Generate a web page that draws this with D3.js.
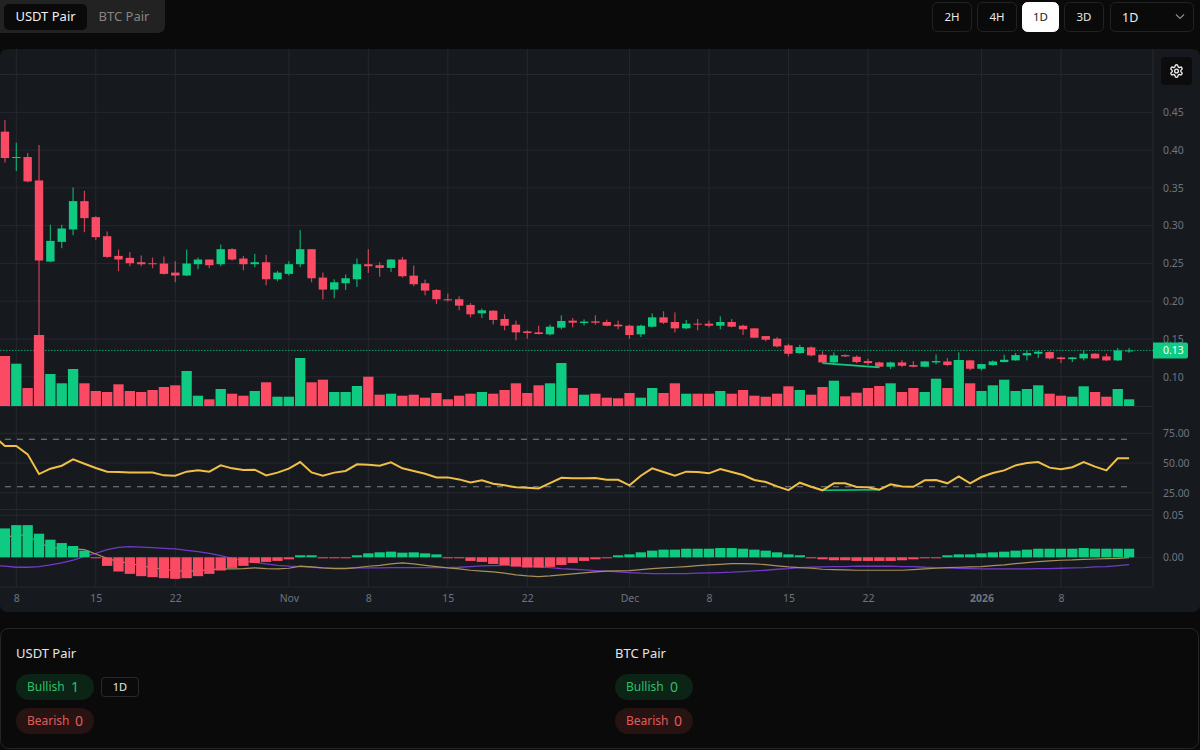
<!DOCTYPE html>
<html>
<head>
<meta charset="utf-8">
<script src="https://cdn.jsdelivr.net/npm/d3@7/dist/d3.min.js"></script>
<style>
  html, body { margin: 0; padding: 0; background: #0a0a0a; overflow: hidden; }
  text { font-family: "Noto Sans", sans-serif; }
  .axis text { fill: #6f7480; font-size: 10.4px; }
  .axis path, .axis line { display: none; }
</style>
</head>
<body>
<svg id="chart" width="1200" height="750"></svg>
<script>
// daily candles, first one is 7 Oct 2025
const startDate = '2025-10-07';
const opens = [.4244,.3895,.3908,.3598,.2524,.2785,.2949,.3324,.3112,.2860,.2599,.2573,.2515,.2502,.2498,.2378,.2339,.2489,.2551,.2489,.2688,.2564,.2489,.2515,.2290,.2361,.2489,.2688,.2312,.2153,.2237,.2290,.2489,.2476,.2440,
  .2551,.2338,.2237,.2148,.2025,.2025,.1950,.1839,.1874,.1764,.1689,.1600,.1587,.1561,.1649,.1742,.1711,.1733,.1724,.1689,.1675,.1561,.1662,.1786,.1724,.1640,.1702,.1702,.1675,.1724,.1675,.1640,.1538,.1503,.1415,
  .1313,.1388,.1291,.1189,.1286,.1264,.1207,.1189,.1132,.1189,.1154,.1132,.1189,.1202,.1171,.1216,.1105,.1154,.1194,.1216,.1282,.1304,.1326,.1255,.1233,.1242,.1304,.1269,.1216,.1335];
const highs = [.4398,.4098,.3961,.4067,.3011,.3011,.3506,.3461,.3125,.2922,.2683,.2648,.2604,.2577,.2591,.2529,.2683,.2577,.2551,.2750,.2701,.2599,.2626,.2613,.2401,.2529,.2940,.2688,.2378,.2290,.2352,.2564,.2688,.2515,.2555,
  .2586,.2471,.2285,.2162,.2100,.2064,.1976,.1901,.1879,.1826,.1742,.1614,.1675,.1689,.1812,.1777,.1759,.1812,.1755,.1742,.1689,.1689,.1839,.1866,.1852,.1751,.1764,.1742,.1799,.1764,.1689,.1640,.1538,.1525,.1437,
  .1423,.1401,.1335,.1322,.1295,.1282,.1238,.1198,.1198,.1220,.1207,.1207,.1295,.1247,.1322,.1224,.1171,.1216,.1291,.1313,.1348,.1348,.1335,.1264,.1260,.1348,.1313,.1304,.1379,.1379];
const lows = [.3833,.3722,.3572,.1300,.2515,.2701,.2873,.2913,.2807,.2573,.2396,.2462,.2462,.2436,.2352,.2250,.2334,.2423,.2436,.2462,.2538,.2409,.2449,.2210,.2264,.2339,.2449,.2250,.2025,.2038,.2149,.2188,.2374,.2325,.2387,
  .2312,.2197,.2078,.1963,.1994,.1879,.1786,.1777,.1693,.1614,.1481,.1503,.1561,.1547,.1627,.1653,.1680,.1689,.1667,.1627,.1503,.1525,.1653,.1698,.1587,.1627,.1614,.1653,.1627,.1653,.1552,.1516,.1468,.1388,.1269,
  .1304,.1269,.1180,.1171,.1260,.1180,.1154,.1123,.1101,.1127,.1123,.1127,.1163,.1140,.1145,.1083,.1083,.1145,.1189,.1211,.1216,.1247,.1229,.1180,.1194,.1216,.1238,.1207,.1207,.1317];
const closes = [.3895,.3908,.3585,.2538,.2798,.2962,.3324,.3099,.2847,.2586,.2551,.2502,.2489,.2489,.2361,.2339,.2498,.2551,.2476,.2688,.2551,.2489,.2515,.2290,.2378,.2489,.2688,.2303,.2153,.2250,.2303,.2489,.2462,.2440,.2551,
  .2330,.2224,.2140,.2025,.2011,.1941,.1826,.1879,.1751,.1675,.1587,.1578,.1565,.1662,.1737,.1715,.1729,.1715,.1675,.1667,.1552,.1675,.1786,.1715,.1640,.1702,.1689,.1675,.1724,.1662,.1627,.1516,.1490,.1401,.1304,
  .1392,.1282,.1189,.1282,.1269,.1194,.1180,.1132,.1189,.1145,.1132,.1202,.1207,.1154,.1207,.1105,.1167,.1202,.1224,.1286,.1313,.1330,.1242,.1233,.1255,.1304,.1242,.1216,.1348,.1348];
const volumes = [50,42.3,18,71,32,22.7,37,22.7,15,14,21.7,15,14,16,19,20.7,35,10.3,6.7,17,12.3,10.3,15,23.7,9.3,9.3,48,23.7,26.3,14,14,20,29.3,11.3,12.3,
  10.3,11.3,8.3,13,6.7,10.3,12.3,14,12.3,16,22.7,13,20.7,22.7,43,18,11.3,12.3,8.3,7.7,13,8.3,18,13,22.7,12.3,12.3,12.3,15,12.3,16,10.3,9.3,12.3,19.7,
  16,11.3,19,25.3,9.7,13.3,18,20,22.7,14,18,14,27.3,18,46,22.7,15,20.7,26.3,15,17,20.7,12.3,10.3,9.3,19.7,14,9.3,17,6.7];

// the three indicator lines start one day earlier, off the left edge
const rsiValues = [72.8,64.3,64.3,57.3,40.7,45.2,47.7,53.1,49.4,45.8,42.7,42.4,41.9,41.9,41.9,39.6,39.3,42.7,43.8,42.7,48.0,45.5,44.1,44.4,39.6,41.9,45.2,50.8,42.1,39.3,41.9,43.3,48.9,48.6,47.7,50.5,
  45.5,43.3,41.0,37.9,37.9,36.2,33.7,35.4,32.6,31.2,29.5,29.2,28.6,33.1,37.6,37.1,37.1,37.4,35.9,35.9,31.2,39.3,45.5,42.4,39.3,42.7,42.4,41.3,44.9,42.4,39.9,35.7,34.0,30.3,27.2,
  33.4,30.0,27.0,32.9,32.9,29.8,29.5,27.5,32.0,30.3,30.0,35.4,35.7,32.9,38.8,32.9,38.2,41.6,43.8,48.0,50.0,50.8,46.1,44.7,46.4,50.8,46.9,43.8,53.9,53.9];
const macdLine = [.0205,.0236,.0264,.0264,.0169,.0118,.0102,.0099,.0091,.0039,-.0012,-.0051,-.0071,-.0102,-.0122,-.0142,-.0158,-.0165,-.0158,-.0150,-.0138,-.0138,-.0134,-.0126,-.0134,-.0138,-.0130,-.0106,-.0114,-.0126,-.0134,-.0134,-.0122,-.0106,-.0095,-.0079,
  -.0067,-.0079,-.0095,-.0110,-.0126,-.0138,-.0154,-.0165,-.0173,-.0189,-.0209,-.0221,-.0229,-.0221,-.0209,-.0197,-.0185,-.0173,-.0165,-.0162,-.0158,-.0146,-.0134,-.0126,-.0118,-.0110,-.0099,-.0091,-.0083,-.0075,-.0075,-.0079,-.0087,-.0102,-.0114,
  -.0122,-.0130,-.0142,-.0146,-.0150,-.0154,-.0154,-.0154,-.0154,-.0154,-.0146,-.0138,-.0130,-.0122,-.0118,-.0114,-.0110,-.0098,-.0091,-.0075,-.0063,-.0051,-.0043,-.0035,-.0031,-.0024,-.0020,-.0016,-.0012,-.0004];
const signalLine = [-.0099,-.0106,-.0118,-.0118,-.0110,-.0091,-.0067,-.0035,.0012,.0047,.0091,.0118,.0126,.0122,.0114,.0106,.0099,.0083,.0067,.0047,.0020,-.0012,-.0039,-.0059,-.0079,-.0095,-.0106,-.0110,-.0118,-.0126,-.0130,-.0130,-.0126,-.0126,-.0126,-.0122,
  -.0122,-.0122,-.0122,-.0122,-.0122,-.0118,-.0110,-.0102,-.0099,-.0095,-.0099,-.0106,-.0114,-.0122,-.0134,-.0142,-.0150,-.0158,-.0165,-.0173,-.0181,-.0189,-.0193,-.0193,-.0193,-.0193,-.0189,-.0185,-.0181,-.0177,-.0169,-.0162,-.0154,-.0142,-.0134,
  -.0122,-.0118,-.0114,-.0110,-.0110,-.0106,-.0106,-.0106,-.0106,-.0110,-.0110,-.0118,-.0122,-.0126,-.0130,-.0134,-.0138,-.0138,-.0138,-.0138,-.0138,-.0134,-.0134,-.0130,-.0126,-.0122,-.0114,-.0110,-.0098,-.0087];
const histogram = [.0343,.0382,.0382,.0280,.0209,.0169,.0134,.0079,-.0008,-.0102,-.0169,-.0197,-.0224,-.0236,-.0248,-.0256,-.0248,-.0224,-.0197,-.0157,-.0126,-.0102,-.0067,-.0055,-.0043,-.0024,.0024,.0024,-.0004,-.0012,-.0012,.0024,.0047,.0059,.0067,
  .0055,.0059,.0047,.0035,-.0006,-.0012,-.0043,-.0055,-.0079,-.0091,-.0110,-.0122,-.0122,-.0114,-.0091,-.0067,-.0043,-.0024,-.0012,.0024,.0035,.0059,.0079,.0091,.0091,.0102,.0102,.0102,.0110,.0110,.0102,.0091,.0079,.0059,.0035,
  .0024,-.0012,-.0024,-.0035,-.0035,-.0043,-.0043,-.0043,-.0043,-.0035,-.0024,-.0012,-.0006,.0024,.0035,.0035,.0047,.0059,.0067,.0079,.0091,.0102,.0102,.0102,.0102,.0110,.0102,.0102,.0102,.0102];

// bullish divergence, bar numbers of both ends
const divFrom = 72;
const divTo = 77;

const priceTicks = [.10,.15,.20,.25,.30,.35,.40,.45];
const priceGrid = [.10,.15,.20,.25,.30,.35,.40,.45,.50];
const rsiTicks = [25,50,75];
const rsiBands = [30,70];
const macdTicks = [0,.05];
const timeTicks = ['2025-10-08','2025-10-15','2025-10-22','2025-11-01','2025-11-08','2025-11-15','2025-11-22','2025-12-01','2025-12-08','2025-12-15','2025-12-22','2026-01-01','2026-01-08'];
const timeLabels = ['8','15','22','Nov','8','15','22','Dec','8','15','22','2026','8'];

const pairTabs = ['USDT Pair','BTC Pair'];
const intervals = ['2H','4H','1D','3D'];
const activeInterval = '1D';
const cardPairs = ['USDT Pair','BTC Pair'];
const bullishCounts = [1,0];
const bearishCounts = [0,0];
const bullishFrames = [['1D'],[]];

const GREEN = '#0ecb81';
const RED = '#fa4a64';
const GRID = '#25282f';
const PANEL = '#161a1f';

const parseDay = d3.utcParse('%Y-%m-%d');
const dayOf = i => d3.utcDay.offset(parseDay(startDate), i);

const x = d3.scaleUtc()
  .domain([dayOf(0), dayOf(99)])
  .range([4.95, 1129.1]);
const xi = i => x(dayOf(i));

const y = d3.scaleLinear().domain([.10, .45]).range([376.7, 112.3]);
const yVol = d3.scaleLinear().domain([0, 71]).range([406, 335]);
const yRsi = d3.scaleLinear().domain([25, 75]).range([492.7, 433.3]);
const yMacd = d3.scaleLinear().domain([0, .05]).range([557.3, 515.2]);

const right = 1153;
const candleW = 8.4;
const barW = 10.3;

const svg = d3.select('#chart');

svg.append('clipPath').attr('id', 'plot').append('rect')
  .attr('x', 0).attr('y', 49).attr('width', right).attr('height', 538);

// chart panel
svg.append('rect')
  .attr('x', 0).attr('y', 49).attr('width', 1200).attr('height', 563)
  .attr('rx', 7).attr('fill', PANEL);

// grid
const grid = svg.append('g').attr('stroke', GRID).attr('stroke-width', 1);
const hLine = yy => grid.append('line').attr('x1', 0).attr('x2', right).attr('y1', yy).attr('y2', yy);
priceGrid.forEach(d => hLine(y(d)));
rsiTicks.forEach(d => hLine(yRsi(d)));
macdTicks.forEach(d => hLine(yMacd(d)));
[406.5, 509.5, 587].forEach(hLine);
grid.selectAll('.vgrid').data(timeTicks).join('line')
  .attr('class', 'vgrid')
  .attr('x1', d => x(parseDay(d))).attr('x2', d => x(parseDay(d)))
  .attr('y1', 49).attr('y2', 587);
grid.append('line').attr('x1', right).attr('x2', right).attr('y1', 49).attr('y2', 587);

const plot = svg.append('g').attr('clip-path', 'url(#plot)');

// current price line
const lastClose = closes[closes.length - 1];
plot.append('line')
  .attr('x1', 0).attr('x2', right)
  .attr('y1', y(lastClose)).attr('y2', y(lastClose))
  .attr('stroke', GREEN).attr('stroke-opacity', .75).attr('stroke-dasharray', '1.5 1.5');

// candles
const bars = d3.range(opens.length);
const isUp = i => closes[i] >= opens[i];
const candles = plot.append('g');
candles.selectAll('.wick').data(bars).join('rect')
  .attr('class', 'wick')
  .attr('x', i => xi(i) - .6).attr('width', 1.2)
  .attr('y', i => y(highs[i]))
  .attr('height', i => y(lows[i]) - y(highs[i]))
  .attr('fill', i => isUp(i) ? GREEN : RED)
  .attr('opacity', .8);
candles.selectAll('.body').data(bars).join('rect')
  .attr('class', 'body')
  .attr('x', i => xi(i) - candleW / 2).attr('width', candleW)
  .attr('y', i => y(Math.max(opens[i], closes[i])))
  .attr('height', i => Math.max(1, Math.abs(y(opens[i]) - y(closes[i]))))
  .attr('fill', i => isUp(i) ? GREEN : RED);

// divergence on price
plot.append('line')
  .attr('x1', xi(divFrom)).attr('x2', xi(divTo))
  .attr('y1', y(lows[divFrom])).attr('y2', y(lows[divTo]))
  .attr('stroke', GREEN).attr('stroke-width', 1.6);

// volume
plot.append('g').selectAll('rect').data(bars).join('rect')
  .attr('x', i => xi(i) - barW / 2).attr('width', barW)
  .attr('y', i => yVol(volumes[i]))
  .attr('height', i => yVol(0) - yVol(volumes[i]))
  .attr('fill', i => isUp(i) ? GREEN : RED);

// rsi
rsiBands.forEach(b => {
  plot.append('line')
    .attr('x1', xi(0)).attr('x2', xi(99))
    .attr('y1', yRsi(b)).attr('y2', yRsi(b))
    .attr('stroke', '#82858d').attr('stroke-width', 1).attr('stroke-dasharray', '6 6');
});
plot.append('line')
  .attr('x1', xi(divFrom)).attr('x2', xi(divTo))
  .attr('y1', yRsi(rsiValues[divFrom + 1])).attr('y2', yRsi(rsiValues[divTo + 1]))
  .attr('stroke', GREEN).attr('stroke-width', 1.6);
const lineAt = scale => d3.line().x((d, i) => xi(i - 1)).y(d => scale(d));
plot.append('path')
  .attr('d', lineAt(yRsi)(rsiValues))
  .attr('fill', 'none').attr('stroke', '#f0bf45').attr('stroke-width', 2);

// macd, histogram sits on top of both lines
plot.append('path')
  .attr('d', lineAt(yMacd)(signalLine))
  .attr('fill', 'none').attr('stroke', '#7238c8').attr('stroke-width', 1.3);
plot.append('path')
  .attr('d', lineAt(yMacd)(macdLine))
  .attr('fill', 'none').attr('stroke', '#a8905a').attr('stroke-width', 1.2);
plot.append('g').selectAll('rect').data(bars).join('rect')
  .attr('x', i => xi(i) - barW / 2).attr('width', barW)
  .attr('y', i => yMacd(Math.max(0, histogram[i])))
  .attr('height', i => Math.max(1, Math.abs(yMacd(histogram[i]) - yMacd(0))))
  .attr('fill', i => histogram[i] >= 0 ? GREEN : RED);

// axes
const twoDec = d3.format('.2f');
const rightAxis = (scale, ticks) => d3.axisRight(scale).tickValues(ticks).tickFormat(twoDec).tickSize(0).tickPadding(10);
svg.append('g').attr('class', 'axis').attr('transform', `translate(${right},0)`).call(rightAxis(y, priceTicks));
svg.append('g').attr('class', 'axis').attr('transform', `translate(${right},0)`).call(rightAxis(yRsi, rsiTicks));
svg.append('g').attr('class', 'axis').attr('transform', `translate(${right},0)`).call(rightAxis(yMacd, macdTicks));

const xAxis = svg.append('g').attr('class', 'axis').attr('transform', 'translate(0,587)')
  .call(d3.axisBottom(x)
    .tickValues(timeTicks.map(parseDay))
    .tickFormat((d, i) => timeLabels[i])
    .tickSize(0).tickPadding(7.5));
xAxis.selectAll('text').filter((d, i) => timeLabels[i] === '2026').attr('font-weight', 700);

// last price tag
const tag = svg.append('g').attr('transform', `translate(${right},${y(lastClose)})`);
tag.append('path').attr('d', 'M0,-8H33a2,2 0 0 1 2,2V6a2,2 0 0 1 -2,2H0Z').attr('fill', GREEN);
tag.append('text').attr('x', 10).attr('y', 4).attr('fill', '#fff').attr('font-size', 10.4).text(twoDec(lastClose));

// settings button
const gear = svg.append('g').attr('transform', 'translate(1161,57)');
gear.append('rect').attr('width', 31).attr('height', 28).attr('rx', 4).attr('fill', '#0c0c0c');
const gearIcon = gear.append('g').attr('transform', 'translate(8,6.5) scale(.625)')
  .attr('fill', 'none').attr('stroke', '#eee').attr('stroke-width', 2.2);
gearIcon.append('path').attr('d', 'M12.22 2h-.44a2 2 0 0 0-2 2v.18a2 2 0 0 1-1 1.73l-.43.25a2 2 0 0 1-2 0l-.15-.08a2 2 0 0 0-2.73.73l-.22.38a2 2 0 0 0 .73 2.73l.15.1a2 2 0 0 1 1 1.72v.51a2 2 0 0 1-1 1.74l-.15.09a2 2 0 0 0-.73 2.73l.22.38a2 2 0 0 0 2.73.73l.15-.08a2 2 0 0 1 2 0l.43.25a2 2 0 0 1 1 1.73V20a2 2 0 0 0 2 2h.44a2 2 0 0 0 2-2v-.18a2 2 0 0 1 1-1.73l.43-.25a2 2 0 0 1 2 0l.15.08a2 2 0 0 0 2.73-.73l.22-.39a2 2 0 0 0-.73-2.73l-.15-.08a2 2 0 0 1-1-1.74v-.5a2 2 0 0 1 1-1.74l.15-.09a2 2 0 0 0 .73-2.73l-.22-.38a2 2 0 0 0-2.73-.73l-.15.08a2 2 0 0 1-2 0l-.43-.25a2 2 0 0 1-1-1.73V4a2 2 0 0 0-2-2z');
gearIcon.append('circle').attr('cx', 12).attr('cy', 12).attr('r', 3);

// top bar: pair tabs
svg.append('rect').attr('x', -8).attr('y', -8).attr('width', 173).attr('height', 41).attr('rx', 7).attr('fill', '#222222');
svg.append('rect').attr('x', 4).attr('y', 4).attr('width', 83).attr('height', 26).attr('rx', 5).attr('fill', '#0a0a0a');
svg.selectAll('.tab').data(pairTabs).join('text')
  .attr('class', 'tab')
  .attr('x', (d, i) => [45.5, 124][i]).attr('y', 21)
  .attr('text-anchor', 'middle').attr('font-size', 13)
  .attr('fill', (d, i) => i === 0 ? '#f0f0f0' : '#858585')
  .text(d => d);

// top bar: interval buttons
const buttonX = d3.scaleOrdinal().domain(intervals).range([932, 977, 1022, 1064]);
const buttonW = d3.scaleOrdinal().domain(intervals).range([39, 39, 36, 39]);
const buttons = svg.selectAll('.btn').data(intervals).join('g').attr('class', 'btn');
buttons.append('rect')
  .attr('x', d => buttonX(d) + .5).attr('y', 2.5)
  .attr('width', d => buttonW(d)).attr('height', 29).attr('rx', 5)
  .attr('fill', d => d === activeInterval ? '#fff' : '#0a0a0a')
  .attr('stroke', d => d === activeInterval ? '#fff' : '#222');
buttons.append('text')
  .attr('x', d => buttonX(d) + buttonW(d) / 2 + .5).attr('y', 21)
  .attr('text-anchor', 'middle').attr('font-size', 11.5)
  .attr('fill', d => d === activeInterval ? '#222' : '#e8e8e8')
  .text(d => d);

svg.append('rect').attr('x', 1110.5).attr('y', 2.5).attr('width', 83).attr('height', 29).attr('rx', 5)
  .attr('fill', '#0a0a0a').attr('stroke', '#222');
svg.append('text').attr('x', 1122).attr('y', 21.5).attr('font-size', 12.5).attr('fill', '#ededed').text(activeInterval);
svg.append('path').attr('d', 'M1176,14.5l4,4l4,-4').attr('fill', 'none').attr('stroke', '#8a8a8a').attr('stroke-width', 1.2);

// bottom card
svg.append('rect').attr('x', .5).attr('y', 628.5).attr('width', 1198).attr('height', 120).attr('rx', 8)
  .attr('fill', '#0a0a0a').attr('stroke', '#262626');

const cards = svg.selectAll('.card').data(cardPairs).join('g')
  .attr('class', 'card')
  .attr('transform', (d, i) => `translate(${[16, 615][i]},0)`);
cards.append('text').attr('y', 658).attr('font-size', 13).attr('fill', '#e6e6e6').text(d => d);

const pill = (g, top, label, count, bg, fg) => {
  g.append('rect').attr('y', top).attr('width', 78).attr('height', 26).attr('rx', 13).attr('fill', bg);
  g.append('text').attr('x', 11).attr('y', top + 17).attr('font-size', 12).attr('fill', fg).text(label);
};
cards.each(function (d, i) {
  const g = d3.select(this);
  pill(g, 674, 'Bullish', bullishCounts[i], '#0b2416', '#2fbf6a');
  g.append('text').attr('x', 55).attr('y', 692).attr('font-size', 14).attr('fill', '#2fbf6a').text(bullishCounts[i]);
  pill(g, 708, 'Bearish', bearishCounts[i], '#281313', '#e05c5c');
  g.append('text').attr('x', 59).attr('y', 726).attr('font-size', 14).attr('fill', '#e05c5c').text(bearishCounts[i]);
  bullishFrames[i].forEach(f => {
    g.append('rect').attr('x', 85.5).attr('y', 677.5).attr('width', 37).attr('height', 19).attr('rx', 3)
      .attr('fill', '#0a0a0a').attr('stroke', '#2a2a2a');
    g.append('text').attr('x', 104).attr('y', 691).attr('text-anchor', 'middle').attr('font-size', 11).attr('fill', '#e6e6e6').text(f);
  });
});
</script>
</body>
</html>
